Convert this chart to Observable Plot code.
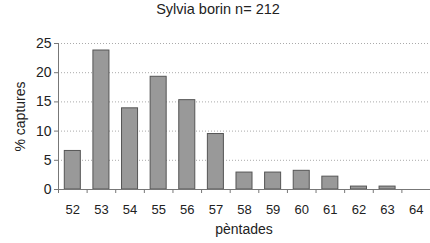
<!DOCTYPE html>
<html><head><meta charset="utf-8">
<script src="https://cdn.jsdelivr.net/npm/d3@7"></script>
<script src="https://cdn.jsdelivr.net/npm/@observablehq/plot@0.6"></script>
<style>
body{margin:0;background:#fff;font-family:"Liberation Sans",Arial,sans-serif;}
#wrap{position:relative;width:430px;height:243px;}
#title{position:absolute;top:1px;left:0;width:436px;text-align:center;font-size:14.5px;color:#222;}
#xlabel{position:absolute;top:221px;left:0;width:488px;text-align:center;font-size:14px;color:#222;}
</style></head><body>
<div id="wrap"><div id="chart"></div><div id="title"></div><div id="xlabel"></div></div>
<script>
const title = "Sylvia borin n= 212";
const xLabel = "pèntades";
const yLabel = "% captures";
const pentades = [52, 53, 54, 55, 56, 57, 58, 59, 60, 61, 62, 63, 64];
const captures = [6.6, 23.8, 13.9, 19.3, 15.3, 9.5, 2.9, 2.9, 3.2, 2.2, 0.5, 0.5, 0];
const yTicks = [0, 5, 10, 15, 20, 25];

document.getElementById("title").textContent = title;
document.getElementById("xlabel").textContent = xLabel;

const data = pentades.map((p, i) => ({p, v: captures[i]}));
const bounds = pentades.map(p => p - 0.5).concat([pentades[pentades.length - 1] + 0.5]);

const chart = Plot.plot({
  width: 430, height: 243,
  marginLeft: 58, marginRight: 0, marginTop: 43, marginBottom: 54,
  x: {type: "linear", domain: [bounds[0], bounds[bounds.length - 1]]},
  y: {domain: [0, 25]},
  style: {fontFamily: "Liberation Sans, Arial, sans-serif", fontSize: "13px", color: "#222", background: "#fff"},
  marks: [
    Plot.gridY(yTicks.filter(t => t > 0), {stroke: "#aaa", strokeOpacity: 1, strokeDasharray: "1,2"}),
    Plot.rectY(data, {x1: d => d.p - 0.28, x2: d => d.p + 0.28, y: "v", fill: "#999", stroke: "#555", strokeWidth: 1}),
    Plot.ruleY([0], {stroke: "#777"}),
    Plot.ruleX([bounds[0]], {stroke: "#777"}),
    Plot.axisY(yTicks, {tickSize: 4, tickPadding: 3, label: yLabel, labelAnchor: "center", labelOffset: 43, labelArrow: "none", stroke: "#777", fontSize: 14}),
    Plot.axisX(bounds, {tickSize: 4, tickFormat: () => "", label: null, stroke: "#777"}),
    Plot.axisX(pentades, {tickSize: 0, tickPadding: 15, label: null, tickFormat: d => String(d)})
  ]
});
document.getElementById("chart").appendChild(chart);
</script>
</body></html>
